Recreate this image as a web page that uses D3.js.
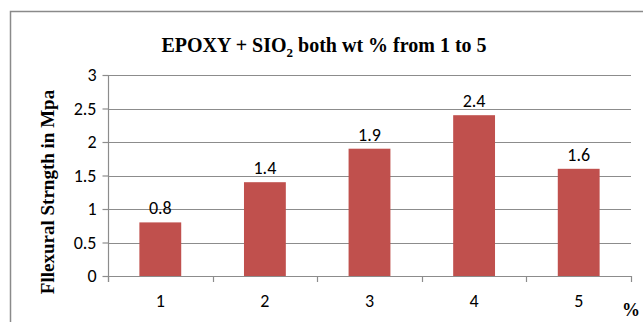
<!DOCTYPE html>
<html>
<head>
<meta charset="utf-8">
<script src="https://cdn.jsdelivr.net/npm/d3@7"></script>
<style>
  html, body { margin: 0; padding: 0; background: #fff; }
  svg { display: block; }
</style>
</head>
<body>
<svg id="chart" width="643" height="322"></svg>
<script>
// Flexural strength of epoxy + SiO2 composites by filler content
const categories = ["1", "2", "3", "4", "5"];
const values = [0.8, 1.4, 1.9, 2.4, 1.6];
const yTicks = [0, 0.5, 1, 1.5, 2, 2.5, 3];

const svg = d3.select("#chart");
const W = 643, H = 322;
const plotLeft = 108, plotRight = 631, plotTop = 75, plotBottom = 276;
const tickFont = "Carlito, Calibri, 'Liberation Sans', sans-serif";
const tickSize = 18;
const serif = "'Liberation Serif', 'Times New Roman', serif";
const gridColor = "#8c8c8c";

// outer chart frame (top and left edges visible)
svg.append("path")
  .attr("d", `M10.5,${H} V11.5 H${W}`)
  .attr("fill", "none")
  .attr("stroke", "#8a8a8a")
  .attr("stroke-width", 1.5);

const x = d3.scaleBand().domain(categories).range([plotLeft, plotRight]).paddingInner(0.6).paddingOuter(0.3);
const y = d3.scaleLinear().domain([0, 3]).range([plotBottom, plotTop]);

// horizontal gridlines
svg.append("g")
  .selectAll("line")
  .data(yTicks.filter(d => d > 0))
  .join("line")
  .attr("x1", plotLeft).attr("x2", plotRight)
  .attr("y1", d => Math.round(y(d)) + 0.5).attr("y2", d => Math.round(y(d)) + 0.5)
  .attr("stroke", gridColor).attr("stroke-width", 1.2);

// y axis
const yAxis = svg.append("g")
  .attr("transform", `translate(${plotLeft + 0.5},0)`)
  .call(d3.axisLeft(y).tickValues(yTicks).tickSize(6).tickPadding(6).tickFormat(d3.format("")));
yAxis.select(".domain").attr("stroke", gridColor).attr("stroke-width", 1.2).attr("d", `M0,${plotTop} V${plotBottom + 6}`);
yAxis.selectAll(".tick line").attr("stroke", gridColor).attr("stroke-width", 1.2);
yAxis.selectAll(".tick text")
  .attr("font-family", tickFont).attr("font-size", tickSize).attr("fill", "#000");

// bars
svg.append("g")
  .selectAll("rect")
  .data(values)
  .join("rect")
  .attr("x", (d, i) => x(categories[i]))
  .attr("width", x.bandwidth())
  .attr("y", d => y(d))
  .attr("height", d => y(0) - y(d))
  .attr("fill", "#C0504D");

// x axis with boundary ticks between categories
const step = x.step();
const boundaries = d3.range(categories.length + 1).map(i => plotLeft + i * step);
const xg = svg.append("g");
xg.append("line")
  .attr("x1", plotLeft).attr("x2", plotRight)
  .attr("y1", plotBottom + 0.5).attr("y2", plotBottom + 0.5)
  .attr("stroke", gridColor).attr("stroke-width", 1.2);
xg.selectAll("line.tk")
  .data(boundaries)
  .join("line")
  .attr("class", "tk")
  .attr("x1", d => Math.round(d) + 0.5).attr("x2", d => Math.round(d) + 0.5)
  .attr("y1", plotBottom).attr("y2", plotBottom + 6)
  .attr("stroke", gridColor).attr("stroke-width", 1.2);
xg.selectAll("text")
  .data(categories)
  .join("text")
  .attr("x", d => x(d) + x.bandwidth() / 2)
  .attr("y", 307)
  .attr("text-anchor", "middle")
  .attr("font-family", tickFont).attr("font-size", tickSize)
  .text(d => d);

// value labels
svg.append("g")
  .selectAll("text")
  .data(values)
  .join("text")
  .attr("x", (d, i) => x(categories[i]) + x.bandwidth() / 2)
  .attr("y", d => y(d) - 8)
  .attr("text-anchor", "middle")
  .attr("font-family", tickFont).attr("font-size", tickSize)
  .text(d => d3.format(".1f")(d));

// title
const title = svg.append("text")
  .attr("x", 324).attr("y", 52)
  .attr("text-anchor", "middle")
  .attr("font-family", serif).attr("font-weight", "bold").attr("font-size", 20);
title.append("tspan").text("EPOXY + SIO");
title.append("tspan").attr("font-size", 13).attr("dy", 5).text("2");
title.append("tspan").attr("dy", -5).text(" both wt % from 1 to 5");

// y axis title
svg.append("text")
  .attr("transform", `translate(54,192) rotate(-90)`)
  .attr("text-anchor", "middle")
  .attr("font-family", serif).attr("font-weight", "bold").attr("font-size", 19)
  .text("Fllexural Strngth in Mpa");

// x axis unit
svg.append("text")
  .attr("x", 631).attr("y", 316)
  .attr("text-anchor", "middle")
  .attr("font-family", serif).attr("font-weight", "bold").attr("font-size", 18)
  .text("%");
</script>
</body>
</html>
